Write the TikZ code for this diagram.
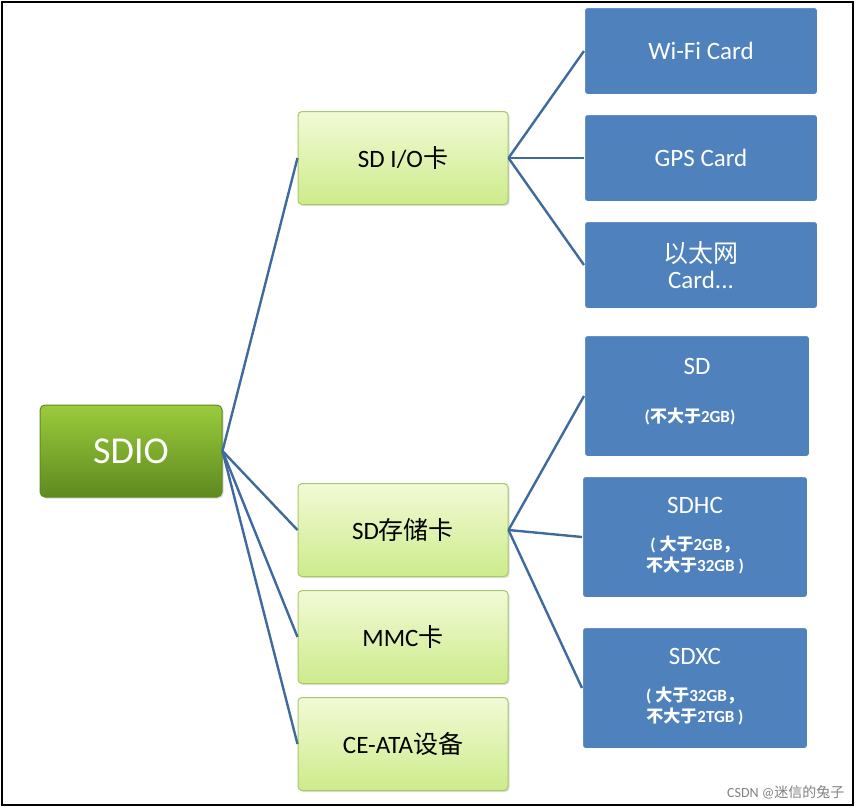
\documentclass[tikz,border=0pt]{standalone}
\usepackage{fontspec}
\setmainfont{Carlito}
\newfontfamily\cjk{Noto Sans CJK SC}
\usetikzlibrary{shadows}
\definecolor{bluebox}{HTML}{4F81BD}
\definecolor{bluedark}{HTML}{3A6598}
\definecolor{greenA}{HTML}{F2FAD6}
\definecolor{greenB}{HTML}{CDEB8B}
\definecolor{greenedge}{HTML}{A6C96A}
\definecolor{sdioA}{HTML}{9BCB3C}
\definecolor{sdioB}{HTML}{5E8A1F}
\definecolor{linec}{HTML}{3F6A9E}
\begin{document}
\begin{tikzpicture}[x=1pt,y=-1pt,
  gbox/.style={draw=greenedge,line width=1pt,rounded corners=4pt,top color=greenA,bottom color=greenB,
    minimum width=210pt,minimum height=93pt,font=\fontsize{25}{28}\selectfont,text=black,inner sep=0pt,
    drop shadow={opacity=0.25,shadow xshift=1.5pt,shadow yshift=-1.5pt}},
  bbox/.style={fill=bluebox,draw=white,line width=1pt,rounded corners=3pt,minimum width=233pt,
    minimum height=87pt,text=white,font=\fontsize{25}{28}\selectfont,inner sep=0pt,align=center},
  sbox/.style={bbox,minimum width=225pt,minimum height=121pt},
  small/.style={font=\fontsize{17}{21}\selectfont\bfseries},
  conn/.style={draw=linec,line width=2.4pt}]
\useasboundingbox (0,0) rectangle (859,809);
\draw[black,line width=1.5pt] (2,2) rectangle (853,805);
% root
\node[draw=sdioB,line width=1pt,rounded corners=5pt,top color=sdioA,bottom color=sdioB,
  minimum width=182pt,minimum height=92pt,text=white,font=\fontsize{38}{40}\selectfont,
  drop shadow={opacity=0.3,shadow xshift=1.5pt,shadow yshift=-1.5pt}] (sdio) at (131,451) {SDIO};
% level 1
\node[gbox] (sdio1) at (403,158) {SD I/O{\cjk 卡}};
\node[gbox] (sdmem) at (403,530) {SD{\cjk 存储卡}};
\node[gbox] (mmc) at (403,637) {MMC{\cjk 卡}};
\node[gbox] (ceata) at (403,744) {CE-ATA{\cjk 设备}};
% level 2
\node[bbox] (wifi) at (701,51) {Wi-Fi Card};
\node[bbox] (gps) at (701,158) {GPS Card};
\node[bbox] (eth) at (701,265) {{\cjk 以太网}\\[-2pt]Card...};
\node[sbox] (sd) at (697,396) {};
\node[font=\fontsize{25}{28}\selectfont,text=white] (sdt) at (697,366) {SD};
\node[small,text=white] (sds) at (690,417) {({\cjk 不大于}2GB)};
\node[sbox] (sdhc) at (695,537) {};
\node[font=\fontsize{25}{28}\selectfont,text=white] (sdhct) at (695,505) {SDHC};
\node[small,text=white,align=center] (sdhcs) at (695,555) {( {\cjk 大于}2GB{\cjk ，}\\{\cjk 不大于}32GB )};
\node[sbox] (sdxc) at (695,688) {};
\node[font=\fontsize{25}{28}\selectfont,text=white] (sdxct) at (695,656) {SDXC};
\node[small,text=white,align=center] (sdxcs) at (695,706) {( {\cjk 大于}32GB{\cjk ，}\\{\cjk 不大于}2TGB )};
% connectors
\foreach \t in {sdio1,sdmem,mmc,ceata}
  \draw[conn] (sdio.east) -- (\t.west);
\foreach \t in {wifi,gps,eth}
  \draw[conn] (sdio1.east) -- (\t.west);
\foreach \t in {sd,sdhc,sdxc}
  \draw[conn] (sdmem.east) -- (\t.west);
\node[anchor=south east,text=gray,font=\fontsize{14}{16}\selectfont] (wm) at (848,803) {CSDN @{\cjk 迷信的兔子}};
\end{tikzpicture}
\end{document}
